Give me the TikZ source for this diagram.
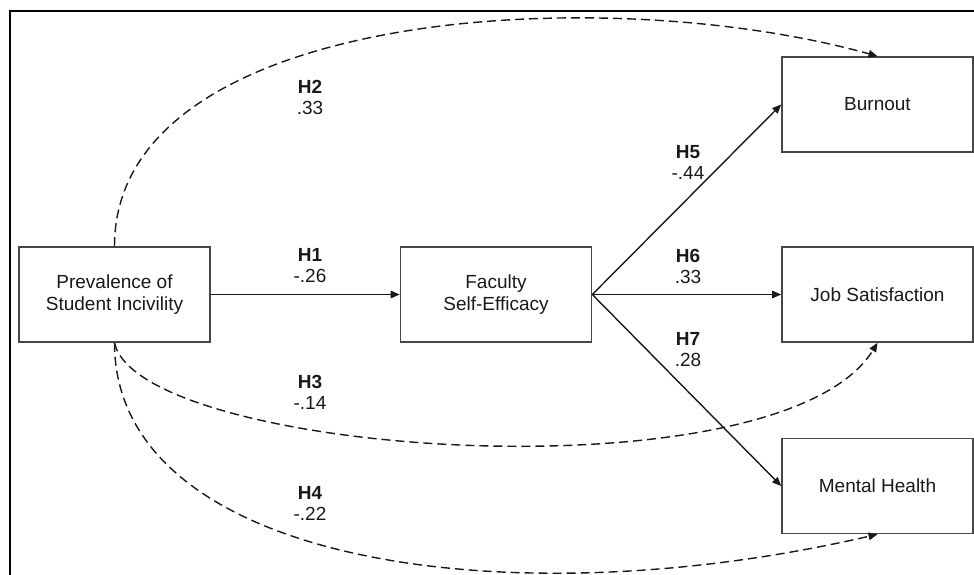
\documentclass[tikz,border=0pt]{standalone}
\usepackage{fontspec}
\setmainfont{Liberation Sans}
\usetikzlibrary{arrows.meta}
\begin{document}
\begin{tikzpicture}[x=1pt,y=-1pt,
  box/.style={draw=black!72, line width=1.6pt, minimum width=191pt, minimum height=95pt, align=center, font=\fontsize{19}{22}\selectfont, inner sep=0pt, text=black!90},
  conn/.style={draw=black!90, line width=1.4pt, -{Triangle[length=9pt,width=7.5pt]}},
  dsh/.style={conn, dash pattern=on 9pt off 5pt},
  lbl/.style={align=center, font=\fontsize{19}{21}\selectfont, inner sep=0pt, text=black!90}]
\useasboundingbox (0,0) rectangle (974,575);
\draw[line width=2.2pt] (10,575) -- (10,11) -- (974,11);

\node[box] (pr) at (114.5,294.5) {Prevalence of\\Student Incivility};
\node[box] (fa) at (496,294.5) {Faculty\\Self-Efficacy};
\node[box] (bo) at (877.5,104.5) {Burnout};
\node[box] (js) at (877.5,294.5) {Job Satisfaction};
\node[box] (mh) at (877.5,486) {Mental Health};

\draw[conn] (pr.east) -- (fa.west);
\draw[conn] (fa.east) -- (bo.west);
\draw[conn] (fa.east) -- (js.west);
\draw[conn] (fa.east) -- (mh.west);

\draw[dsh] (pr.north) .. controls +(0,-236) and +(-277,-77) .. (bo.north);
\draw[dsh] (pr.south) .. controls +(25,113) and +(-97,158) .. (js.south);
\draw[dsh] (pr.south) .. controls +(0,218) and +(-377,87) .. (mh.south);

\node[lbl] (l1) at (310,265.5) {\textbf{H1}\\-.26};
\node[lbl] (l2) at (310,97.5) {\textbf{H2}\\.33};
\node[lbl] (l3) at (310,392.5) {\textbf{H3}\\-.14};
\node[lbl] (l4) at (310,503) {\textbf{H4}\\-.22};
\node[lbl] (l5) at (688,162.5) {\textbf{H5}\\-.44};
\node[lbl] (l6) at (688,266.5) {\textbf{H6}\\.33};
\node[lbl] (l7) at (688,350) {\textbf{H7}\\.28};
\end{tikzpicture}
\end{document}
